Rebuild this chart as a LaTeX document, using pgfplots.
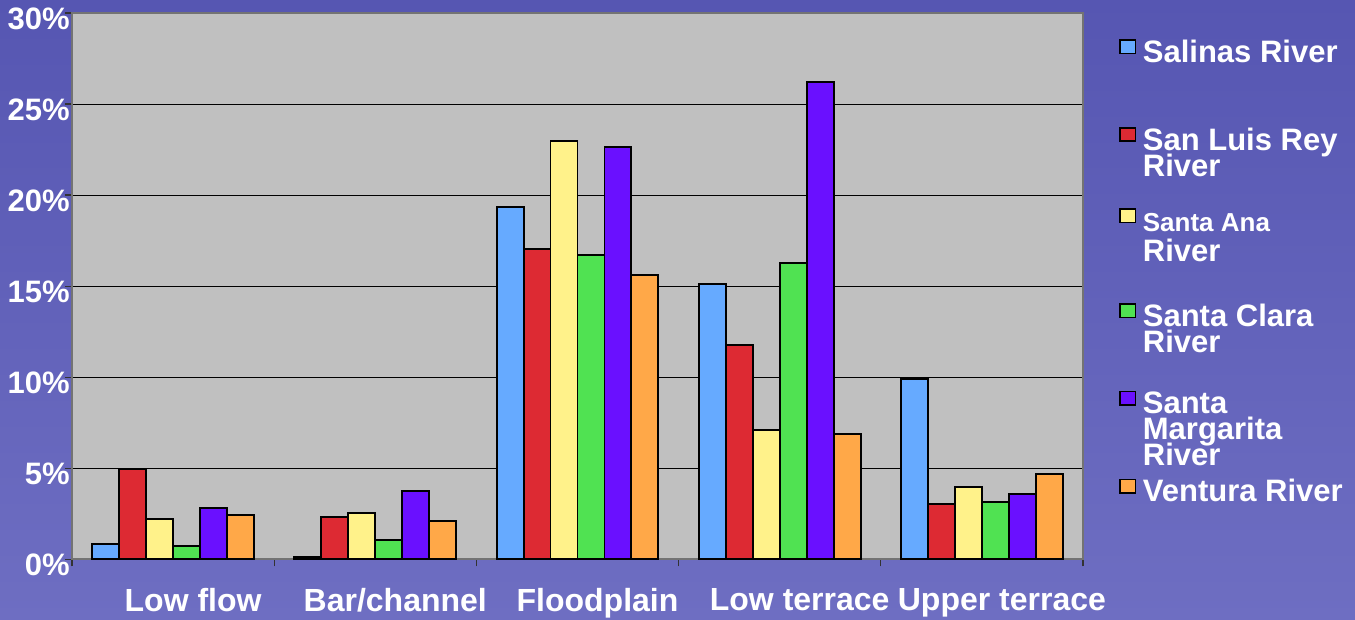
\documentclass[border=0pt]{standalone}
\usepackage{pgfplots}
\pgfplotsset{compat=1.18}
\usepackage{fontspec}
\setmainfont{Liberation Sans}
\definecolor{bgtop}{RGB}{86,86,178}
\definecolor{bgbot}{RGB}{110,110,194}
\definecolor{plotbg}{RGB}{192,192,192}
\definecolor{cblue}{RGB}{102,170,255}
\definecolor{cred}{RGB}{221,42,51}
\definecolor{cyellow}{RGB}{255,242,138}
\definecolor{cgreen}{RGB}{80,226,82}
\definecolor{cpurple}{RGB}{106,16,255}
\definecolor{corange}{RGB}{255,168,72}
\newcommand{\legtext}[2]{\rule{0pt}{#1}\smash{\parbox[t]{130pt}{\lineskiplimit=-100pt\lineskip=0pt\raggedright #2}}}
\begin{document}
\begin{tikzpicture}[x=1pt,y=1pt]
\useasboundingbox (0,0) rectangle (677.5,310);
\shade[top color=bgtop,bottom color=bgbot] (0,0) rectangle (677.5,310);
\begin{axis}[
  at={(36pt,30.35pt)}, anchor=south west,
  scale only axis, width=505.5pt, height=273.15pt,
  axis background/.style={fill=plotbg},
  ybar=0pt, bar width=0.1333,
  xmin=-0.5, xmax=4.5, ymin=0, ymax=30,
  xtick={-0.5,0.5,1.5,2.5,3.5,4.5},
  x tick label as interval,
  xticklabels={Low flow,Bar/channel,Floodplain,Low terrace,Upper terrace},
  ytick={0,5,10,15,20,25,30},
  yticklabel={\pgfmathprintnumber{\tick}\%},
  /pgf/number format/assume math mode=true,
  tick pos=left, tick align=outside, major tick length=3.5pt,
  tick style={draw=black!80, line width=0.6pt},
  ymajorgrids, grid style={draw=black, line width=0.5pt},
  axis line style={draw=black!55, line width=0.8pt},
  xticklabel style={font=\bfseries\fontsize{16}{16}\selectfont, text=white, inner sep=0pt, anchor=north, yshift=-11pt, xshift=10pt},
  yticklabel style={font=\bfseries\fontsize{15.5}{15.5}\selectfont, text=white, inner sep=0pt, anchor=east, xshift=2.5pt, yshift=-3pt},
  every axis plot post/.append style={draw=black, line width=0.95pt,
    legend image code/.code={\draw[##1,draw=black,line width=0.8pt] (0pt,4.5pt) rectangle (7.85pt,11.2pt);}},
  legend style={at={(1.0356,0.9677)}, anchor=north west, draw=none, fill=none,
    inner sep=0pt, outer sep=0pt, row sep=0pt, column sep=3.3pt,
    text=white, font=\bfseries\fontsize{15.5}{13}\selectfont,
    nodes={inner sep=0pt}, cells={anchor=base west}},
]
\addplot[fill=cblue] coordinates {(0,0.86) (1,0.11) (2,19.35) (3,15.13) (4,9.92)};
\addlegendentry{\legtext{16pt}{Salinas River}}
\addplot[fill=cred] coordinates {(0,4.96) (1,2.32) (2,17.06) (3,11.75) (4,3.05)};
\addlegendentry{\legtext{42.3pt}{San Luis Rey\\River}}
\addplot[fill=cyellow] coordinates {(0,2.23) (1,2.56) (2,22.95) (3,7.10) (4,3.97)};
\addlegendentry{\legtext{39.2pt}{{\fontsize{13}{13}\selectfont Santa Ana}\\[2pt]River}}
\addplot[fill=cgreen] coordinates {(0,0.73) (1,1.06) (2,16.73) (3,16.29) (4,3.16)};
\addlegendentry{\legtext{45.9pt}{Santa Clara\\River}}
\addplot[fill=cpurple] coordinates {(0,2.80) (1,3.77) (2,22.62) (3,26.19) (4,3.60)};
\addlegendentry{\legtext{42.25pt}{Santa\\Margarita\\River}}
\addplot[fill=corange] coordinates {(0,2.45) (1,2.12) (2,15.63) (3,6.88) (4,4.70)};
\addlegendentry{\legtext{42.5pt}{Ventura River}}
\end{axis}
\end{tikzpicture}
\end{document}
